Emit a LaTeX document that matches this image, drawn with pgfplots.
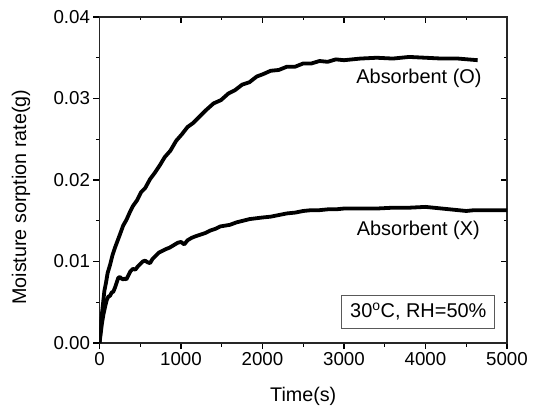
\documentclass[border=0pt]{standalone}
\usepackage{fontspec}
\setmainfont{Liberation Sans}
\usepackage{pgfplots}
\pgfplotsset{compat=1.18}
\begin{document}
\begin{tikzpicture}
\pgfplotsset{
  base/.style={
    at={(0,0)}, anchor=south west,
    scale only axis, width=407.5bp, height=326bp,
    xmin=0, xmax=5000, ymin=0, ymax=0.04,
    xtick={0,1000,2000,3000,4000,5000},
    minor xtick={500,1500,2500,3500,4500},
    ytick={0,0.01,0.02,0.03,0.04},
    minor ytick={0.005,0.015,0.025,0.035},
    major tick length=6bp, minor tick length=3.5bp,
    every tick/.style={black, line width=1.1bp},
    axis line style={black!85, line width=1.1bp},
    scaled y ticks=false,
  }
}
\begin{axis}[base,
  xtick pos=top, ytick pos=right, tick align=inside,
  xticklabels={}, yticklabels={}]
\end{axis}
\begin{axis}[base,
  xtick pos=bottom, ytick pos=left, tick align=outside,
  tick label style={font=\fontsize{18.8}{22}\selectfont},
  /pgf/number format/assume math mode=true,
  xticklabel style={/pgf/number format/1000 sep={}},
  yticklabel style={/pgf/number format/fixed, /pgf/number format/fixed zerofill, /pgf/number format/precision=2},
  xlabel={Time(s)}, ylabel={Moisture sorption rate(g)},
  label style={font=\fontsize{19.8}{23}\selectfont},
  xlabel style={at={(rel axis cs:0.5,0)}, anchor=center, yshift=-53bp},
  ylabel style={at={(rel axis cs:-0.1926,0.447)}, anchor=center},
]
\addplot[black, line width=3.8bp, line join=round, no marks] coordinates {
(0,0) (10,0.0012) (20,0.0025) (30,0.0036) (45,0.0050) (60,0.0064) (80,0.0074)
(100,0.0086) (130,0.0096) (160,0.0108) (190,0.0117) (220,0.0125) (250,0.0133)
(290,0.0144) (330,0.0151) (370,0.0160) (410,0.0168) (460,0.0175) (510,0.0185)
(560,0.0190) (620,0.0201) (680,0.0209) (740,0.0218) (800,0.0228) (870,0.0236)
(940,0.0248) (1010,0.0256) (1080,0.0265) (1150,0.0270) (1230,0.0278) (1310,0.0286)
(1400,0.0294) (1490,0.0298) (1580,0.0306) (1660,0.0310) (1750,0.0317) (1840,0.0320)
(1930,0.0327) (2010,0.0330) (2100,0.0334) (2200,0.0335) (2300,0.0339) (2400,0.0339)
(2500,0.0343) (2600,0.0343) (2700,0.0346) (2800,0.0345) (2900,0.0348) (3000,0.0347)
(3200,0.0349) (3400,0.0350) (3600,0.0349) (3800,0.0351) (4000,0.0350) (4200,0.0349)
(4400,0.0349) (4640,0.0347)
};
\addplot[black, line width=3.8bp, line join=round, no marks] coordinates {
(0,0) (15,0.0012) (30,0.0024) (50,0.0036) (70,0.0045) (90,0.0053) (110,0.0057)
(130,0.0058) (150,0.0062) (170,0.0063) (190,0.0068) (210,0.0074) (230,0.0080)
(250,0.0081) (270,0.0079) (290,0.0078) (310,0.0079) (330,0.0078) (350,0.0082)
(380,0.0088) (410,0.0091) (440,0.0090) (470,0.0094) (500,0.0097) (530,0.0100)
(560,0.0101) (590,0.0099) (620,0.0098) (650,0.0103) (690,0.0107) (730,0.0111)
(770,0.0113) (810,0.0115) (860,0.0117) (910,0.0120) (960,0.0123) (1000,0.0124)
(1040,0.0121) (1080,0.0126) (1130,0.0129) (1180,0.0131) (1240,0.0133) (1300,0.0135)
(1360,0.0138) (1420,0.0140) (1480,0.0143) (1540,0.0144) (1600,0.0145) (1680,0.0148)
(1760,0.0150) (1840,0.0152) (1920,0.0153) (2000,0.0154) (2100,0.0155) (2200,0.0157)
(2300,0.0159) (2400,0.0160) (2500,0.0162) (2600,0.0163) (2700,0.0163) (2800,0.0164)
(2900,0.0164) (3000,0.0165) (3200,0.0165) (3400,0.0165) (3600,0.0166) (3800,0.0166)
(4000,0.0167) (4200,0.0165) (4400,0.0163) (4500,0.0162) (4600,0.0163) (4800,0.0163)
(5000,0.0163)
};
\node[font=\fontsize{20}{24}\selectfont] at (axis cs:3920,0.03248) {Absorbent (O)};
\node[font=\fontsize{20}{24}\selectfont] at (axis cs:3912,0.01377) {Absorbent (X)};
\node[draw=black!65, line width=0.8bp, fill=white, minimum width=153bp, minimum height=33bp,
  inner sep=0pt, font=\fontsize{20}{24}\selectfont] at (axis cs:3912,0.00384) {30\textsuperscript{o}C, RH=50\%};
\end{axis}
\pgfresetboundingbox
\path[use as bounding box] (-99.5bp,-70bp) rectangle (439.5bp,343bp);
\end{tikzpicture}
\end{document}
